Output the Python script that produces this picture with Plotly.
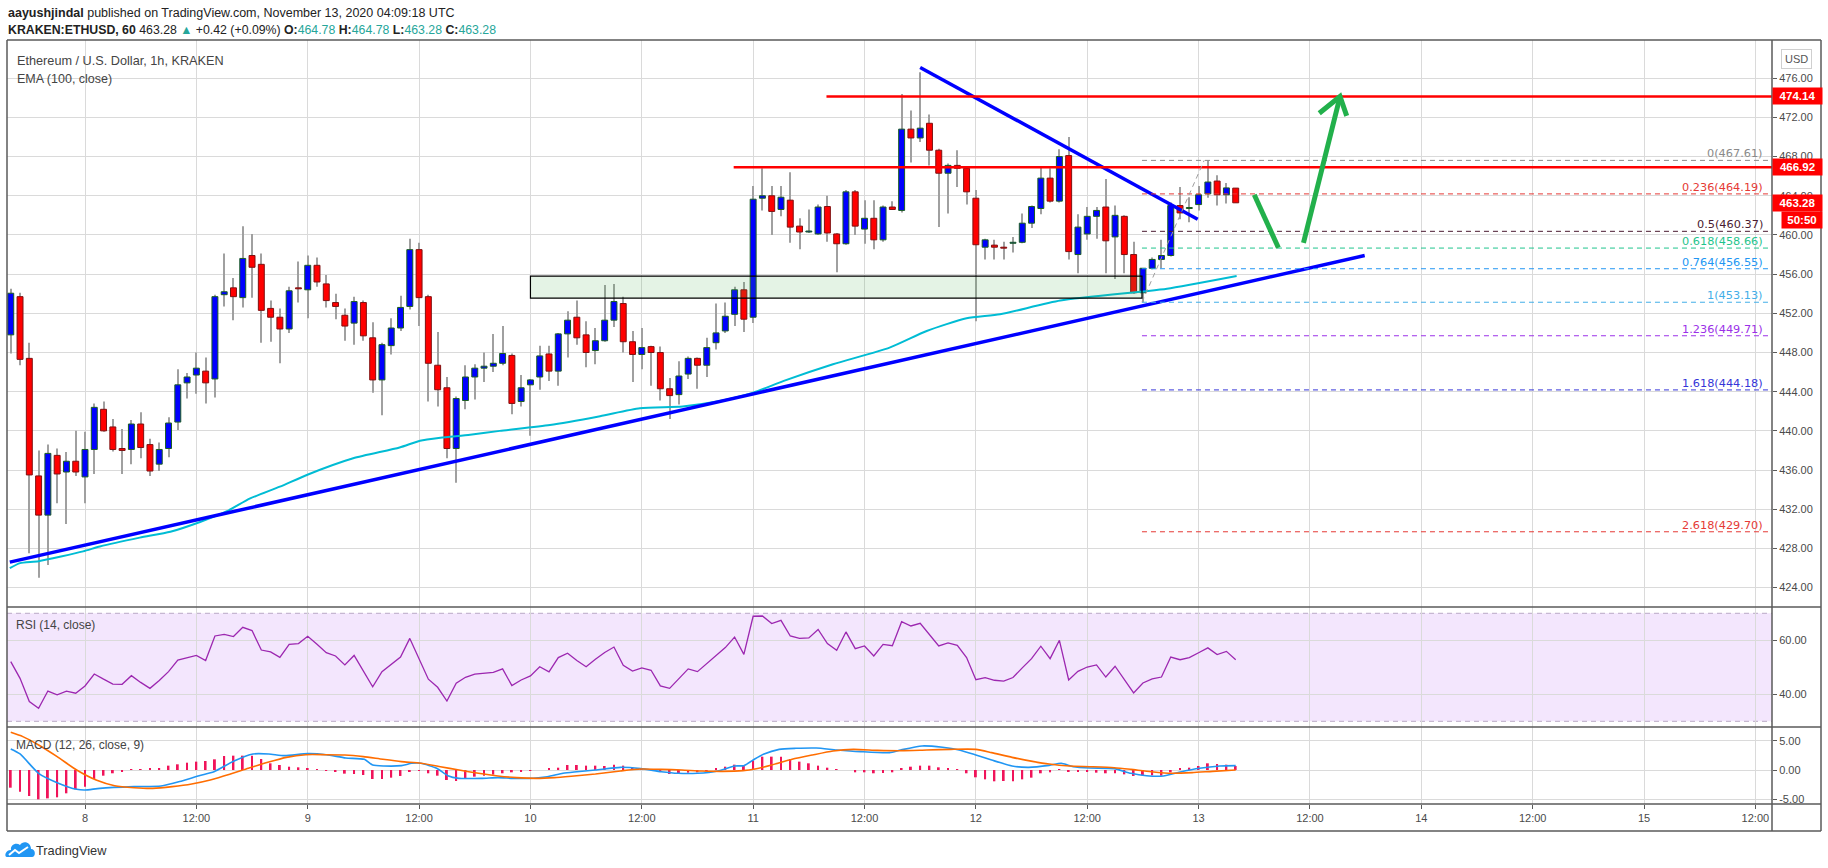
import plotly.graph_objects as go
from datetime import datetime, timedelta

BASE = datetime(2020, 11, 8)


def t(h):
    return BASE + timedelta(hours=h)


# ---------------- data ----------------
FIRST_HOUR = -8  # first candle 2020-11-07 16:00 UTC, hourly candles

opens = [449.8, 453.7, 447.4, 435.4, 431.4, 437.5, 435.8, 436.9, 435.3, 438.1,
         442.2, 440.4, 438.2, 438.1, 440.7, 438.6, 436.6, 438.2, 440.9, 444.9,
         445.7, 446.1, 445.3, 453.9, 454.6, 453.6, 457.9, 457.0, 452.5, 451.6,
         450.4, 454.6, 454.4, 456.9, 455.0, 453.1, 451.8, 451.0, 453.1, 449.5,
         445.2, 448.7, 450.5, 452.7, 458.5, 453.7, 446.7, 444.4, 438.2, 443.1,
         445.5, 446.4, 446.6, 446.9, 447.7, 443.0, 444.7, 445.5, 447.85, 446.1,
         449.9, 451.6, 449.8, 448.2, 449.2, 451.3, 453.0, 449.1, 447.8, 448.6,
         448.0, 444.3, 443.7, 445.8, 447.4, 446.7, 449.0, 450.2, 451.9, 454.4,
         451.6, 463.75, 464.0, 462.6, 463.55, 460.9, 460.3, 460.1, 462.9, 460.1,
         459.1, 464.4, 460.6, 461.7, 459.5, 462.85, 462.5, 470.8, 469.9, 471.4,
         468.65, 466.3, 467.1, 466.8, 463.75, 458.75, 458.96, 458.75, 459.15, 459.25,
         461.2, 462.7, 465.8, 463.45, 468.1, 458.0, 460.1, 461.9, 462.85, 459.8,
         461.9, 458.0, 454.1, 456.6, 457.5, 457.9, 463.0, 462.7, 463.1, 464.2,
         465.5, 464.1, 464.78]

highs = [454.5, 454.1, 449.0, 438.0, 438.6, 438.2, 437.85, 440.0, 439.9, 442.8,
         443.0, 441.2, 440.2, 441.1, 441.9, 439.2, 438.8, 441.4, 446.3, 445.9,
         448.0, 447.5, 453.9, 458.1, 455.6, 460.9, 460.1, 458.1, 453.3, 452.5,
         454.7, 457.3, 457.9, 457.7, 455.9, 454.0, 452.5, 453.7, 453.3, 451.1,
         449.0, 451.5, 453.8, 459.6, 459.2, 453.9, 450.1, 445.5, 443.5, 446.7,
         446.8, 448.0, 449.9, 450.7, 447.9, 445.7, 445.3, 448.7, 448.7, 450.0,
         452.2, 453.3, 451.2, 450.5, 454.9, 455.0, 453.7, 450.2, 450.5, 448.7,
         448.6, 445.4, 447.1, 447.6, 447.5, 449.5, 453.0, 453.1, 454.7, 455.2,
         465.0, 466.8, 465.0, 465.0, 466.4, 461.7, 462.6, 463.1, 464.0, 460.2,
         464.6, 464.6, 463.55, 463.55, 463.0, 463.45, 474.4, 472.7, 476.6, 472.3,
         468.8, 467.3, 468.65, 467.0, 464.6, 459.6, 459.5, 459.3, 459.8, 462.2,
         463.0, 466.9, 466.8, 468.75, 470.0, 462.1, 462.85, 462.85, 465.7, 463.0,
         462.0, 459.3, 456.6, 457.7, 459.5, 463.3, 464.9, 463.85, 465.0, 467.61,
         466.1, 465.3, 464.78]

lows = [447.9, 446.7, 427.5, 425.0, 426.3, 432.6, 430.5, 435.4, 432.6, 435.6,
        439.9, 437.9, 435.6, 436.6, 437.2, 435.4, 435.9, 437.3, 440.1, 443.3,
        443.8, 442.8, 443.4, 452.7, 451.3, 452.6, 453.6, 449.0, 449.1, 446.9,
        450.0, 453.1, 451.5, 454.7, 452.6, 451.4, 449.2, 448.8, 449.2, 443.9,
        441.6, 447.8, 450.2, 452.4, 450.7, 443.0, 442.5, 437.2, 434.7, 442.2,
        443.2, 445.0, 446.0, 446.7, 441.7, 442.5, 439.5, 444.2, 445.1, 444.6,
        447.5, 448.8, 446.5, 446.8, 449.1, 450.6, 448.0, 445.0, 446.3, 444.6,
        443.1, 441.2, 442.7, 445.3, 444.3, 445.5, 448.3, 450.0, 450.7, 450.1,
        451.0, 462.5, 460.0, 461.9, 459.2, 458.55, 460.2, 460.0, 459.3, 456.2,
        459.0, 460.0, 459.1, 458.55, 459.3, 462.6, 462.3, 467.4, 469.5, 467.1,
        460.8, 462.2, 464.9, 463.1, 451.2, 457.5, 457.5, 457.5, 458.2, 459.15,
        460.7, 462.1, 463.3, 463.3, 457.5, 456.1, 459.5, 459.6, 456.1, 455.5,
        456.1, 454.0, 453.13, 456.5, 456.6, 457.8, 461.6, 461.3, 462.5, 463.8,
        463.0, 463.2, 463.28]

closes = [454.05, 447.3, 435.5, 431.4, 437.7, 435.6, 436.9, 435.8, 438.1, 442.4,
          440.0, 438.1, 438.0, 440.7, 438.3, 435.9, 438.1, 440.8, 444.7, 445.5,
          446.4, 444.9, 453.7, 454.2, 453.7, 457.6, 456.7, 452.3, 451.6, 450.4,
          454.3, 454.5, 456.9, 455.2, 453.3, 452.7, 450.7, 453.2, 449.7, 445.2,
          448.8, 450.5, 452.6, 458.5, 453.6, 446.9, 444.2, 438.2, 443.3, 445.5,
          446.4, 446.6, 446.9, 447.9, 442.8, 444.4, 445.2, 447.65, 446.1, 449.9,
          451.3, 449.5, 448.0, 449.2, 451.3, 453.2, 449.1, 447.8, 448.5, 448.0,
          444.3, 443.6, 445.6, 447.4, 446.7, 448.5, 450.0, 451.7, 454.4, 451.4,
          463.65, 464.0, 462.4, 463.85, 460.8, 460.3, 460.4, 462.85, 460.2, 459.1,
          464.4, 460.9, 461.7, 459.5, 462.85, 462.6, 470.8, 469.9, 470.9, 468.65,
          466.3, 467.1, 466.8, 464.4, 459.0, 459.5, 458.75, 458.65, 459.25, 461.2,
          462.9, 465.8, 463.45, 468.0, 458.3, 460.8, 461.9, 462.5, 459.4, 462.0,
          458.0, 454.1, 456.6, 457.5, 457.9, 463.0, 462.25, 462.8, 464.1, 465.4,
          464.1, 464.8, 463.28]

rsi = [52.1, 45.9, 37.3, 34.8, 41.2, 39.8, 41.2, 40.4, 43.1, 47.5,
       45.6, 43.8, 43.7, 46.9, 44.4, 42.2, 45.1, 48.4, 52.7, 53.6,
       54.4, 52.5, 61.6, 62.2, 61.4, 64.8, 63.6, 56.4, 55.7, 53.7,
       58.5, 58.8, 61.5, 58.5, 55.4, 54.2, 50.9, 54.4, 48.6, 42.8,
       48.4, 51.1, 53.8, 60.7, 53.3, 45.6, 42.6, 37.5, 44.1, 46.3,
       47.5, 47.8, 48.1, 49.4, 43.2, 45.3, 46.8, 50.2, 48.3, 53.6,
       55.2, 52.5, 50.2, 53.0, 55.5, 57.5, 50.7, 48.6, 49.8, 48.9,
       43.1, 42.2, 46.0, 49.4, 48.4, 51.4, 54.3, 57.3, 61.2, 54.8,
       68.9, 69.0, 66.2, 67.4, 61.6, 60.7, 60.9, 64.0, 58.8, 56.3,
       63.1, 56.9, 57.9, 54.2, 58.5, 58.0, 66.9, 65.3, 66.3, 61.9,
       57.9, 59.0, 58.1, 53.6, 45.4, 46.2, 45.2, 44.9, 46.2, 49.8,
       53.2, 57.8, 53.2, 60.0, 45.3, 48.5, 50.1, 50.9, 46.4, 50.4,
       45.4, 40.5, 44.2, 45.7, 46.4, 53.8, 52.8, 53.6, 55.4, 57.2,
       54.7, 55.9, 52.8]

macd_hist = [-3.05, -3.74, -4.48, -5.06, -4.89, -4.71, -4.02, -3.33, -2.87, -1.55,
             -0.98, -0.57, -0.29, 0.17, 0.17, 0.23, 0.23, 0.75, 0.98, 1.26,
             1.44, 1.55, 1.84, 2.41, 2.47, 2.47, 2.47, 1.9, 1.15, 0.86,
             0.57, 0.46, 0.34, 0.17, -0.06, -0.29, -0.63, -0.69, -0.86, -1.55,
             -1.55, -1.32, -1.03, -0.29, -0.06, -0.57, -0.98, -1.72, -1.9, -1.55,
             -1.15, -0.98, -0.8, -0.57, -0.4, -0.23, -0.11, 0.0, 0.23, 0.4,
             0.86, 0.86, 0.75, 0.75, 0.69, 0.92, 0.75, 0.4, 0.17, 0.0,
             -0.29, -0.69, -0.57, -0.46, -0.4, -0.17, 0.23, 0.57, 0.92, 0.86,
             1.61, 2.3, 2.3, 2.3, 1.9, 1.44, 1.15, 0.75, 0.4, 0.06,
             0.0, -0.4, -0.4, -0.57, -0.52, -0.4, 0.23, 0.57, 0.75, 0.75,
             0.46, 0.23, 0.06, -0.57, -1.26, -1.61, -1.95, -1.9, -1.95, -1.61,
             -1.32, -0.57, -0.4, 0.17, -0.29, -0.29, -0.34, -0.46, -0.57, -0.57,
             -0.75, -1.03, -0.92, -0.92, -0.98, -0.4, 0.23, 0.4, 0.69, 1.15,
             1.03, 0.92, 0.69]

# (hour offset from Nov 8 00:00, value) points
macd_line = [(-8, 3.62), (-7, 2.76), (-5, -0.57), (-3, -2.18), (-0.9, -3.33), (0, -3.45),
             (1.6, -3.16), (5.3, -2.87), (8.2, -2.76), (10.2, -2.0), (12.3, -0.98), (13.9, -0.3),
             (16, 1.5), (18.1, 2.76), (19.8, 2.76), (21.5, 2.47), (24, 2.82), (26, 2.64),
             (28.1, 2.07), (30.1, 1.84), (31, 0.86), (32.2, 0.69), (34.1, 0.75), (35.2, 1.15),
             (36.2, 1.15), (37.9, 0.29), (39.1, -0.98), (40.3, -1.44), (42.8, -1.44), (44.5, -1.32),
             (46.1, -1.44), (47.7, -1.44), (49.8, -1.15), (51.5, -0.57), (52.7, -0.34), (55, 0.0),
             (57.7, 0.46), (59.9, 0.23), (62.1, -0.29), (63.9, -0.57), (66.0, -0.57), (68.2, -0.17),
             (70, 0.69), (71, 0.75), (72, 1.72), (73.1, 2.7), (74.8, 3.56), (76.6, 3.74),
             (78.8, 3.79), (81, 3.45), (83.6, 3.16), (86.7, 2.99), (87.9, 3.45), (90.2, 4.14),
             (92.4, 3.91), (94.2, 3.45), (96, 2.59), (97.7, 1.72), (99.9, 0.69), (101.7, 0.46),
             (103.9, 0.8), (105.2, 1.15), (106.5, 0.57), (108.3, 0.34), (110.9, 0.23), (112.7, -0.57),
             (114.4, -0.98), (116.2, -1.03), (117.9, -0.4), (120.1, 0.29), (122.3, 0.69), (124, 0.75)]

signal_line = [(-8, 6.49), (-6.7, 5.75), (-5, 4.31), (-3, 2.3), (-0.9, 0.0), (1.2, -1.72),
               (3.2, -2.7), (5.3, -3.05), (7.3, -3.16), (9.4, -2.87), (11.5, -2.41), (13.5, -1.72),
               (15.6, -0.75), (17.6, 0.29), (19.7, 1.32), (21.7, 2.18), (23.8, 2.64), (25.9, 2.64),
               (28, 2.59), (30, 2.3), (32.1, 1.84), (34.1, 1.44), (36.2, 1.15), (38.3, 0.57),
               (40.3, 0.0), (42.4, -0.57), (44.5, -1.03), (46.5, -1.32), (48.6, -1.44), (50.6, -1.32),
               (52.7, -1.03), (55, -0.69), (57.7, -0.17), (59.9, 0.17), (62.1, 0.11), (64.3, 0.0),
               (66.5, -0.17), (68.7, -0.23), (70.9, -0.11), (72.2, 0.17), (74, 0.86), (76.2, 1.84),
               (78.4, 2.59), (80.6, 3.28), (82.8, 3.56), (85.4, 3.39), (88, 3.33), (90.7, 3.45),
               (93.3, 3.56), (96, 3.56), (97.7, 2.99), (99.9, 2.18), (102.1, 1.49), (103.9, 1.03),
               (106.1, 0.69), (108.3, 0.57), (110.9, 0.4), (112.7, 0.11), (114.9, -0.29), (117.1, -0.57),
               (119.3, -0.46), (121.5, -0.23), (124, 0.0)]

ema100 = [(-8.1, 425.98), (-7.0, 426.5), (-5.0, 426.7), (-0.2, 427.7), (1.6, 428.2), (5.9, 429.1),
          (9.2, 429.7), (12.4, 430.7), (15.3, 431.8), (17.8, 433.1), (21.0, 434.3), (23.9, 435.5),
          (28.9, 437.2), (33.9, 438.3), (36.1, 439.0), (38.3, 439.3), (41.5, 439.6), (44.7, 440.0),
          (50.1, 440.6), (55.5, 441.5), (59.8, 442.3), (64.4, 442.5), (68.1, 443.0), (72.0, 443.9),
          (75.3, 445.1), (80.6, 446.8), (86.7, 448.5), (90.7, 450.2), (95.0, 451.5), (98.6, 451.9),
          (105.1, 453.3), (113.7, 454.2), (116.6, 454.5), (124.1, 455.8)]

support_line = [(-8.1, 426.6), (137.9, 457.9)]
resistance_line = [(90.0, 477.1), (119.9, 461.6)]
red_levels = [474.14, 466.92]
red_levels_start = [79.9, 69.9]
zone_hours = [48.0, 113.9]
zone_prices = [453.55, 455.8]

fib_ratios = ["0", "0.236", "0.5", "0.618", "0.764", "1", "1.236", "1.618", "2.618"]
fib_prices = [467.61, 464.19, 460.37, 458.66, 456.55, 453.13, 449.71, 444.18, 429.70]
fib_colors = ["#8a8a8a", "#e53935", "#4a1a30", "#1fc48c", "#2196f3", "#42aee8", "#9b30e8", "#3535d8", "#e53935"]
fib_start_hour = 113.9
fib_swing = [(113.9, 453.13), (120.6, 467.61)]

arrow_down = [(126.0, 464.1), (128.6, 458.7)]
arrow_up = [(131.3, 459.2), (135.24, 474.13)]
arrow_head = [(133.0, 472.43), (135.24, 474.13), (135.96, 472.16)]

x_range_hours = [-8.405, 181.79]
price_ticks = list(range(424, 477, 4))
last_price = 463.28

# ---------------- geometry helpers (pixels -> paper) ----------------
W, H = 1828, 868
L, R, T, B = 7, 1772, 40, 804


def px(x):
    return (x - L) / (R - L)


def py(y):
    return (B - y) / (B - T)


FONT = "Liberation Sans, Arial, sans-serif"
GRID = "#dadada"
AXTXT = "#4a4a4a"
FRAME = "#5a5a5a"

n = len(opens)
times = [t(FIRST_HOUR + i) for i in range(n)]
HOUR_MS = 3600e3

fig = go.Figure()

# wicks (thin bars, drawn before bodies)
fig.add_trace(go.Bar(x=times, base=lows, y=[h - l for h, l in zip(highs, lows)],
                     width=HOUR_MS / 9.28, marker=dict(color="#a0a0a0", line=dict(width=0)),
                     hoverinfo="skip"))
is_up = [c >= o for o, c in zip(opens, closes)]
fig.add_trace(go.Bar(
    x=times,
    base=[min(o, c) for o, c in zip(opens, closes)],
    y=[max(abs(c - o), 0.09) for o, c in zip(opens, closes)],
    width=0.64 * HOUR_MS,
    marker=dict(color=["#0000ff" if u else "#ff0000" for u in is_up],
                line=dict(color=["#1b5e20" if u else "#7f1010" for u in is_up], width=1)),
    hoverinfo="skip"))

# EMA 100
fig.add_trace(go.Scatter(x=[t(h) for h, _ in ema100], y=[v for _, v in ema100], mode="lines",
                         line=dict(color="#00bcd4", width=2, shape="spline", smoothing=0.6), hoverinfo="skip"))

# trend lines
for seg in (support_line, resistance_line):
    fig.add_trace(go.Scatter(x=[t(h) for h, _ in seg], y=[v for _, v in seg], mode="lines",
                             line=dict(color="#0000ff", width=3.5), hoverinfo="skip"))

# red horizontal levels
for lvl, h0 in zip(red_levels, red_levels_start):
    fig.add_trace(go.Scatter(x=[t(h0), t(x_range_hours[1])], y=[lvl, lvl], mode="lines",
                             line=dict(color="#ff0000", width=2.5), hoverinfo="skip"))

# fib levels
for lvl, col in zip(fib_prices, fib_colors):
    fig.add_trace(go.Scatter(x=[t(fib_start_hour), t(x_range_hours[1])], y=[lvl, lvl], mode="lines",
                             line=dict(color=col, width=1, dash="5px,4px"), hoverinfo="skip"))
fig.add_trace(go.Scatter(x=[t(h) for h, _ in fib_swing], y=[v for _, v in fib_swing], mode="lines",
                         line=dict(color="#9e9e9e", width=1, dash="5px,4px"), hoverinfo="skip"))

# green arrows
for seg in (arrow_down, arrow_up, arrow_head):
    fig.add_trace(go.Scatter(x=[t(h) for h, _ in seg], y=[v for _, v in seg], mode="lines",
                             line=dict(color="#22b04b", width=5), hoverinfo="skip"))

# RSI
fig.add_trace(go.Scatter(x=times, y=rsi, mode="lines", yaxis="y2",
                         line=dict(color="#9c27b0", width=1.3), hoverinfo="skip"))

# MACD
fig.add_trace(go.Bar(x=times, y=macd_hist, yaxis="y3", width=0.2 * HOUR_MS,
                     marker=dict(color="#f0145a", line=dict(width=0)), hoverinfo="skip"))
fig.add_trace(go.Scatter(x=[t(h) for h, _ in macd_line], y=[v for _, v in macd_line], yaxis="y3",
                         mode="lines", line=dict(color="#2196f3", width=1.6, shape="spline", smoothing=0.6),
                         hoverinfo="skip"))
fig.add_trace(go.Scatter(x=[t(h) for h, _ in signal_line], y=[v for _, v in signal_line], yaxis="y3",
                         mode="lines", line=dict(color="#ff6d00", width=1.6, shape="spline", smoothing=0.6),
                         hoverinfo="skip"))

# ---------------- shapes ----------------
shapes = []
# RSI band
shapes.append(dict(type="rect", xref="paper", yref="y2", x0=0, x1=1, y0=30, y1=70,
                   fillcolor="#f3e6fd", line=dict(width=0), layer="below"))
for lv in (30, 70):
    shapes.append(dict(type="line", xref="paper", yref="y2", x0=0, x1=1, y0=lv, y1=lv,
                       line=dict(color="#b9a9c6", width=1, dash="5px,4px"), layer="below"))
# support/resistance zone
shapes.append(dict(type="rect", xref="x", yref="y", x0=t(zone_hours[0]), x1=t(zone_hours[1]),
                   y0=zone_prices[0], y1=zone_prices[1], fillcolor="rgba(76,175,80,0.15)",
                   line=dict(color="#000000", width=1.2), layer="above"))


def frame_line(x0, y0, x1, y1, w=1.5):
    shapes.append(dict(type="line", xref="paper", yref="paper", x0=px(x0), y0=py(y0), x1=px(x1), y1=py(y1),
                       line=dict(color=FRAME, width=w), layer="above"))


frame_line(7, 40, 1821, 40)
frame_line(7, 40, 7, 831)
frame_line(1821, 40, 1821, 831)
frame_line(7, 831, 1821, 831)
frame_line(1772, 40, 1772, 831)
frame_line(7, 607, 1821, 607)
frame_line(7, 727, 1821, 727)
frame_line(7, 804, 1821, 804)


# TradingView logo (cloud)
def pth(points):
    out = []
    for cmd, coords in points:
        s = cmd + " " + " ".join(f"{px(coords[i]):.5f},{py(coords[i + 1]):.5f}" for i in range(0, len(coords), 2))
        out.append(s)
    return " ".join(out) + " Z"


cloud = pth([("M", [7, 857]), ("L", [32, 857]),
             ("C", [36, 857, 36, 849, 31, 849]),
             ("C", [31, 842, 23, 840, 20, 845]),
             ("C", [16, 842, 10, 845, 11, 850]),
             ("C", [5, 850, 4, 857, 7, 857])])
shapes.append(dict(type="path", xref="paper", yref="paper", path=cloud, fillcolor="#2196f3",
                   line=dict(width=0), layer="above"))
zig = " ".join([f"M {px(9):.5f},{py(855):.5f}", f"L {px(15):.5f},{py(850):.5f}",
                f"L {px(19):.5f},{py(853):.5f}", f"L {px(28):.5f},{py(847):.5f}"])
shapes.append(dict(type="path", xref="paper", yref="paper", path=zig,
                   line=dict(color="white", width=2), layer="above"))

# ---------------- annotations ----------------
ann = []
TEAL = "#26a69a"
ann.append(dict(xref="paper", yref="paper", x=px(6), y=py(13), xanchor="left", yanchor="middle",
                text="<b>aayushjindal</b> published on TradingView.com, November 13, 2020 04:09:18 UTC",
                showarrow=False, font=dict(family=FONT, size=12.5, color="#222222")))
line2 = ("<b>KRAKEN:ETHUSD, 60</b> 463.28 "
         f"<span style='color:{TEAL}'>▲</span> +0.42 (+0.09%) "
         f"<b>O:</b><span style='color:{TEAL}'>464.78</span> "
         f"<b>H:</b><span style='color:{TEAL}'>464.78</span> "
         f"<b>L:</b><span style='color:{TEAL}'>463.28</span> "
         f"<b>C:</b><span style='color:{TEAL}'>463.28</span>")
ann.append(dict(xref="paper", yref="paper", x=px(6), y=py(29.5), xanchor="left", yanchor="middle",
                text=line2, showarrow=False, font=dict(family=FONT, size=12.3, color="#222222")))
ann.append(dict(xref="paper", yref="paper", x=px(15), y=py(61), xanchor="left", yanchor="middle",
                text="Ethereum / U.S. Dollar, 1h, KRAKEN", showarrow=False,
                font=dict(family=FONT, size=12.7, color="#444444")))
ann.append(dict(xref="paper", yref="paper", x=px(15), y=py(79), xanchor="left", yanchor="middle",
                text="EMA (100, close)", showarrow=False, font=dict(family=FONT, size=12.5, color="#444444")))
ann.append(dict(xref="paper", yref="paper", x=px(14), y=py(625), xanchor="left", yanchor="middle",
                text="RSI (14, close)", showarrow=False, font=dict(family=FONT, size=12, color="#444444")))
ann.append(dict(xref="paper", yref="paper", x=px(14), y=py(745), xanchor="left", yanchor="middle",
                text="MACD (12, 26, close, 9)", showarrow=False, font=dict(family=FONT, size=12, color="#444444")))
# fib labels
for r_, p_, c_ in zip(fib_ratios, fib_prices, fib_colors):
    ann.append(dict(xref="paper", yref="y", x=px(1764), y=p_, xanchor="right", yanchor="bottom",
                    text=f"{r_}({p_:.2f})", showarrow=False, borderpad=0, yshift=-1,
                    font=dict(family="DejaVu Sans", size=11.3, color=c_)))
# price boxes on the axis
for val in red_levels + [last_price]:
    ann.append(dict(xref="paper", yref="y", x=1.0, y=val, xanchor="left", yanchor="middle",
                    text=f"<b>{val:.2f}</b>", showarrow=False, bgcolor="#ff0000", borderpad=0,
                    width=49, height=16, align="center", font=dict(family=FONT, size=11.5, color="white")))
ann.append(dict(xref="paper", yref="paper", x=px(1781), y=py(220), xanchor="left", yanchor="middle",
                text="<b>50:50</b>", showarrow=False, bgcolor="#ff0000", borderpad=0,
                width=40, height=16, align="center", font=dict(family=FONT, size=11.5, color="white")))
ann.append(dict(xref="paper", yref="paper", x=px(1796), y=py(59), xanchor="center", yanchor="middle",
                text="USD", showarrow=False, bgcolor="white", bordercolor="#cfcfcf", borderwidth=1, borderpad=3,
                font=dict(family=FONT, size=11, color="#555555")))
ann.append(dict(xref="paper", yref="paper", x=px(34), y=py(850), xanchor="left", yanchor="middle",
                text="TradingView", showarrow=False, font=dict(family=FONT, size=12.8, color="#333333")))

# ---------------- axes ----------------
tick_hours = [12 * k for k in range(16)]
tick_text = [str(8 + k // 2) if k % 2 == 0 else "12:00" for k in range(16)]

common_y = dict(side="right", anchor="x", showgrid=True, gridcolor=GRID, gridwidth=1, zeroline=False,
                ticks="outside", ticklen=4, tickcolor=FRAME, showline=False,
                tickfont=dict(family=FONT, size=11, color=AXTXT), fixedrange=True)

fig.update_layout(
    width=W, height=H,
    margin=dict(l=L, r=W - R, t=T, b=H - B, pad=0),
    paper_bgcolor="white", plot_bgcolor="white",
    showlegend=False, barmode="overlay",
    font=dict(family=FONT),
    xaxis=dict(type="date", anchor="y3", domain=[0, 1],
               range=[t(x_range_hours[0]), t(x_range_hours[1])],
               tickvals=[t(h) for h in tick_hours], ticktext=tick_text,
               showgrid=True, gridcolor=GRID, gridwidth=1, zeroline=False,
               ticks="outside", ticklen=4, tickcolor=FRAME, showline=False,
               tickfont=dict(family=FONT, size=11, color=AXTXT)),
    yaxis=dict(domain=[py(607), 1], range=[422.02, 479.9],
               tickvals=price_ticks, ticktext=[f"{v:.2f}" for v in price_ticks], **common_y),
    yaxis2=dict(domain=[py(727), py(607)], range=[27.89, 72.33],
                tickvals=[40, 60], ticktext=["40.00", "60.00"], **common_y),
    yaxis3=dict(domain=[0, py(727)], range=[-5.86, 7.41],
                tickvals=[-5, 0, 5], ticktext=["-5.00", "0.00", "5.00"], **common_y),
    shapes=shapes,
    annotations=ann,
)

fig.write_html("out.html", config={"displayModeBar": False},
               post_script="document.body.style.margin='0';document.body.style.overflow='hidden';")
